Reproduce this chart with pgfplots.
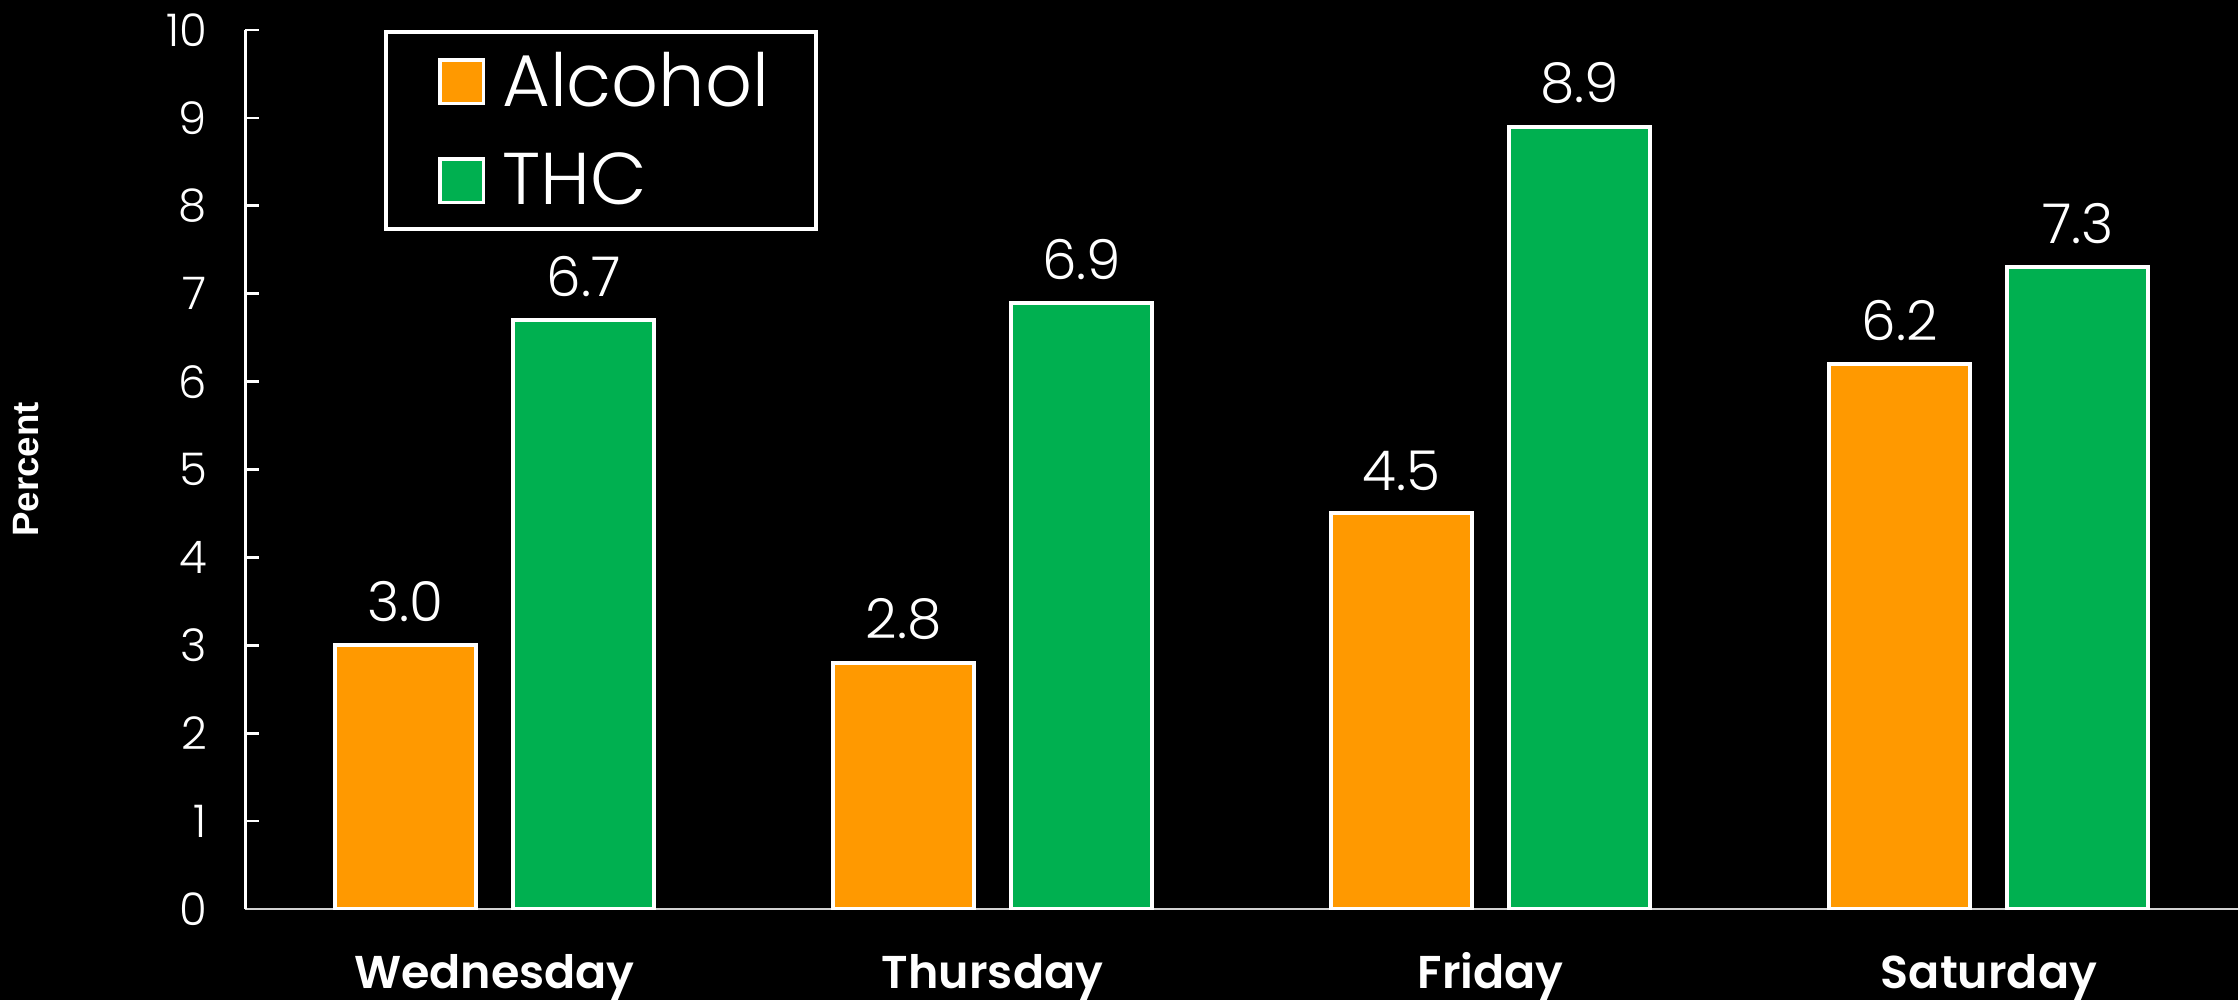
\documentclass[border=0pt]{standalone}
\usepackage{pgfplots}
\pgfplotsset{compat=1.18}
\usepackage{fontspec}
\setmainfont{Poppins Light}[BoldFont=Poppins SemiBold]
\newfontfamily\arialb{Liberation Sans}
\definecolor{alc}{RGB}{255,153,0}
\definecolor{thc}{RGB}{0,176,80}
\definecolor{xline}{RGB}{210,210,210}
\begin{document}
\begin{tikzpicture}
\useasboundingbox (-73.6pt,-27.3pt) rectangle (597.75pt,272.7pt);
\fill[black] (-73.6pt,-27.3pt) rectangle (597.75pt,272.7pt);
\begin{axis}[
  scale only axis, width=597.75pt, height=263.7pt,
  ymin=0, ymax=10, xmin=-0.5, xmax=3.5,
  ybar, bar width=42.3pt,
  axis x line*=bottom, axis y line*=left,
  x axis line style={xline, line width=0.8pt, -},
  y axis line style={white, line width=0.8pt, -},
  xtick={0,1,2,3},
  xticklabels={Wednesday,Thursday,Friday,Saturday},
  xtick style={draw=none},
  xticklabel style={text=white, font=\fontsize{13.8}{16}\selectfont\bfseries, anchor=base, yshift=-23.8pt},
  ytick={0,1,...,10},
  ytick style={white, line width=0.8pt},
  tick align=inside, major tick length=4pt,
  yticklabel style={text=white, font=\fontsize{13.5}{15}\selectfont, xshift=-8pt, /pgf/number format/assume math mode=true},
  ylabel={Percent},
  ylabel style={text=white, font=\arialb\fontsize{11}{13}\selectfont\bfseries, at={(rel axis cs:-0.1102,0.5)}, anchor=center},
  nodes near coords={\pgfmathprintnumber[fixed,fixed zerofill,precision=1,assume math mode=true]{\pgfplotspointmeta}},
  nodes near coords style={text=white, font=\fontsize{16.5}{18}\selectfont, yshift=3pt},
  legend style={at={(0.0694,1)}, anchor=north west, draw=white, line width=1.2pt, fill=black, text=white, font=\fontsize{22}{26}\selectfont, inner xsep=12pt, inner ysep=4pt, row sep=8.3pt},
  legend cell align=left,
  legend image code/.code={\path[draw=none,fill=none] (0pt,0pt) -- (21pt,0pt); \draw[#1,draw=white,line width=1pt] (4.3pt,-6.5pt) rectangle (17.3pt,6.5pt);},
]
\addplot[fill=alc, draw=white, line width=1.2pt, bar shift=-26.7pt] coordinates {(0,3.0) (1,2.8) (2,4.5) (3,6.2)};
\addplot[fill=thc, draw=white, line width=1.2pt, bar shift=26.7pt] coordinates {(0,6.7) (1,6.9) (2,8.9) (3,7.3)};
\legend{Alcohol,THC}
\end{axis}
\end{tikzpicture}
\end{document}
